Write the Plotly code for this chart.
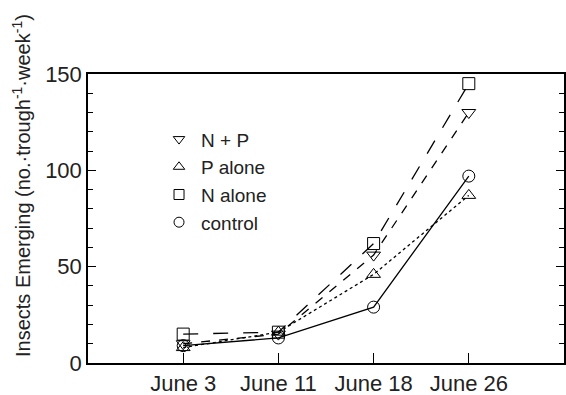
import plotly.graph_objects as go

dates = ["June 3", "June 11", "June 18", "June 26"]
x_pos = [0, 1, 2, 3]
n_plus_p = [10, 15, 56, 130]
p_alone = [8, 16, 46, 87]
n_alone = [15, 16, 62, 145]
control = [9, 13, 29, 97]
y_title = "Insects Emerging (no.·trough<sup>-1</sup>·week<sup>-1</sup>)"

series = [
    ("N + P", n_plus_p, "triangle-down-open", "dash"),
    ("P alone", p_alone, "triangle-up-open", "dot"),
    ("N alone", n_alone, "square-open", "longdash"),
    ("control", control, "circle-open", "solid"),
]

fig = go.Figure()
for name, vals, sym, dash in series:
    fig.add_trace(go.Scatter(
        x=x_pos, y=vals, mode="lines+markers", name=name, showlegend=False,
        line=dict(color="black", width=1.3, dash=dash),
        marker=dict(symbol=sym, size=12, color="black", line=dict(width=1, color="#333")),
    ))
for name, vals, sym, dash in series:
    fig.add_trace(go.Scatter(
        x=[None], y=[None], mode="markers", name=name,
        marker=dict(symbol=sym, size=10, color="black", line=dict(width=1, color="#333")),
    ))

fig.update_layout(
    width=566, height=395, autosize=False,
    margin=dict(l=88, r=2, t=74, b=32),
    plot_bgcolor="white", paper_bgcolor="white",
    font=dict(family="Liberation Sans, Arial, sans-serif", color="#222", size=16),
    legend=dict(x=0.145, y=0.84, xanchor="left", yanchor="top",
                bgcolor="rgba(0,0,0,0)", font=dict(size=19), tracegroupgap=0,
                itemwidth=34),
    annotations=[dict(
        text=y_title, textangle=-90, showarrow=False,
        xref="paper", yref="paper", x=(21 - 88) / 476, y=(363 - 186) / 289,
        xanchor="center", yanchor="middle", font=dict(size=20),
    )],
)
fig.update_xaxes(
    range=[-1, 4], tickvals=x_pos, ticktext=dates, ticks="inside", ticklen=10,
    tickcolor="black", showline=True, linecolor="black", linewidth=1.5, mirror=True,
    showgrid=False, zeroline=False, tickfont=dict(size=22), automargin=False,
)
fig.update_yaxes(
    range=[0, 150], tickvals=[0, 50, 100, 150], ticks="inside", ticklen=8,
    tickcolor="black", showline=True, linecolor="black", linewidth=1.5, mirror="ticks",
    showgrid=False, zeroline=False, tickfont=dict(size=22), automargin=False,
    minor=dict(dtick=10, ticks="inside", ticklen=5, tickcolor="black"),
)
fig.write_html(
    "out.html",
    config={"responsive": False, "displayModeBar": False},
    post_script="document.body.style.margin='0';document.body.style.overflow='hidden';",
)
